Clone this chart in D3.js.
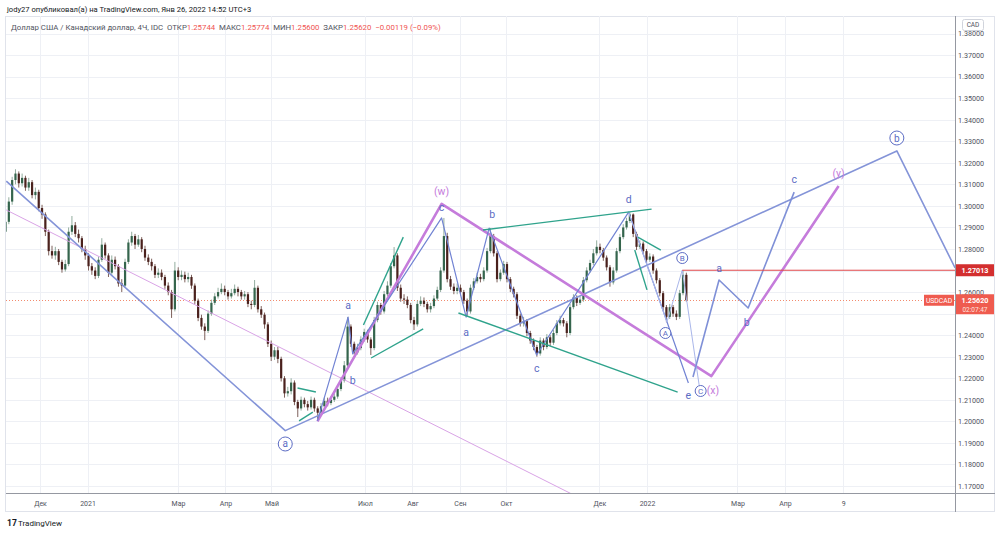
<!DOCTYPE html>
<html>
<head>
<meta charset="UTF-8">
<script src="https://d3js.org/d3.v7.min.js"></script>
<title>USDCAD 4H</title>
<style>
  body{margin:0;background:#fff;}
  text{font-family:Roboto,"Liberation Sans",sans-serif;}
</style>
</head>
<body>
<div id="container"></div>
<script>
// ---- data ----
var candleStart = new Date(2020, 10, 8, 12), candleStepHours = 52, firstOpen = 1.2880;
var closes = [1.2926,1.3020,1.3120,1.3150,1.3105,1.3130,1.3085,1.3110,1.3050,1.3065,
1.2990,1.2960,1.2880,1.2790,1.2770,1.2790,1.2740,1.2705,1.2730,1.2880,
1.2910,1.2870,1.2850,1.2800,1.2770,1.2720,1.2700,1.2675,1.2750,1.2820,
1.2770,1.2690,1.2750,1.2720,1.2640,1.2630,1.2740,1.2830,1.2860,1.2820,
1.2845,1.2800,1.2760,1.2740,1.2720,1.2680,1.2690,1.2670,1.2630,1.2600,
1.2520,1.2700,1.2670,1.2680,1.2660,1.2670,1.2630,1.2560,1.2480,1.2440,
1.2420,1.2500,1.2550,1.2580,1.2600,1.2615,1.2600,1.2580,1.2595,1.2615,
1.2600,1.2580,1.2590,1.2545,1.2540,1.2620,1.2520,1.2495,1.2450,1.2360,
1.2300,1.2330,1.2290,1.2200,1.2130,1.2140,1.2180,1.2090,1.2060,1.2100,
1.2080,1.2065,1.2100,1.2060,1.2040,1.2070,1.2095,1.2085,1.2100,1.2115,
1.2150,1.2190,1.2260,1.2440,1.2360,1.2320,1.2340,1.2380,1.2415,1.2380,
1.2340,1.2470,1.2540,1.2510,1.2590,1.2630,1.2720,1.2770,1.2620,1.2570,
1.2565,1.2540,1.2470,1.2450,1.2545,1.2560,1.2545,1.2520,1.2535,1.2570,
1.2610,1.2700,1.2860,1.2660,1.2625,1.2605,1.2620,1.2600,1.2560,1.2510,
1.2620,1.2650,1.2670,1.2660,1.2700,1.2790,1.2860,1.2780,1.2660,1.2690,
1.2730,1.2660,1.2615,1.2590,1.2490,1.2455,1.2465,1.2410,1.2375,1.2345,
1.2315,1.2375,1.2345,1.2390,1.2365,1.2410,1.2455,1.2470,1.2455,1.2410,
1.2530,1.2575,1.2550,1.2565,1.2655,1.2700,1.2735,1.2780,1.2810,1.2795,
1.2760,1.2715,1.2645,1.2700,1.2790,1.2855,1.2900,1.2930,1.2960,1.2870,
1.2810,1.2825,1.2790,1.2750,1.2765,1.2700,1.2655,1.2595,1.2530,1.2485,
1.2530,1.2500,1.2485,1.2595,1.2680,1.2562];
var highs = [1.2945,1.3040,1.3135,1.3170,1.3160,1.3150,1.3140,1.3130,1.3120,1.3085,
1.3075,1.3005,1.2970,1.2890,1.2815,1.2810,1.2800,1.2750,1.2750,1.2900,
1.2953,1.2925,1.2890,1.2860,1.2815,1.2780,1.2735,1.2715,1.2765,1.2850,
1.2830,1.2780,1.2770,1.2765,1.2730,1.2660,1.2755,1.2845,1.2880,1.2870,
1.2865,1.2855,1.2815,1.2775,1.2755,1.2730,1.2710,1.2705,1.2680,1.2645,
1.2610,1.2740,1.2715,1.2700,1.2695,1.2690,1.2680,1.2640,1.2570,1.2495,
1.2455,1.2515,1.2565,1.2595,1.2620,1.2640,1.2630,1.2610,1.2615,1.2635,
1.2625,1.2610,1.2605,1.2600,1.2560,1.2656,1.2630,1.2535,1.2505,1.2460,
1.2375,1.2345,1.2345,1.2300,1.2210,1.2160,1.2200,1.2190,1.2100,1.2115,
1.2110,1.2095,1.2115,1.2110,1.2070,1.2085,1.2110,1.2110,1.2115,1.2130,
1.2165,1.2205,1.2280,1.2484,1.2450,1.2370,1.2360,1.2395,1.2430,1.2425,
1.2390,1.2485,1.2555,1.2550,1.2605,1.2650,1.2735,1.2809,1.2780,1.2635,
1.2590,1.2580,1.2550,1.2485,1.2560,1.2580,1.2575,1.2555,1.2550,1.2585,
1.2625,1.2715,1.2944,1.2875,1.2675,1.2640,1.2640,1.2635,1.2610,1.2570,
1.2635,1.2665,1.2690,1.2685,1.2715,1.2805,1.2897,1.2870,1.2790,1.2705,
1.2745,1.2740,1.2670,1.2625,1.2600,1.2500,1.2485,1.2475,1.2420,1.2385,
1.2355,1.2390,1.2385,1.2405,1.2400,1.2425,1.2470,1.2490,1.2480,1.2465,
1.2545,1.2590,1.2585,1.2580,1.2670,1.2715,1.2750,1.2800,1.2840,1.2825,
1.2805,1.2770,1.2725,1.2715,1.2805,1.2870,1.2915,1.2945,1.2971,1.2965,
1.2880,1.2840,1.2835,1.2800,1.2780,1.2775,1.2710,1.2665,1.2605,1.2540,
1.2545,1.2540,1.2515,1.2610,1.2701,1.2690];
var lows = [1.2865,1.2915,1.3005,1.3100,1.3085,1.3090,1.3070,1.3070,1.3035,1.3030,
1.2975,1.2940,1.2860,1.2770,1.2755,1.2750,1.2725,1.2690,1.2695,1.2720,
1.2865,1.2855,1.2830,1.2785,1.2750,1.2700,1.2680,1.2660,1.2665,1.2740,
1.2755,1.2670,1.2680,1.2705,1.2625,1.2600,1.2620,1.2730,1.2815,1.2800,
1.2810,1.2785,1.2745,1.2725,1.2700,1.2665,1.2665,1.2655,1.2615,1.2585,
1.2480,1.2510,1.2655,1.2655,1.2645,1.2645,1.2615,1.2545,1.2465,1.2425,
1.2377,1.2410,1.2490,1.2540,1.2570,1.2590,1.2585,1.2565,1.2570,1.2585,
1.2580,1.2565,1.2565,1.2530,1.2520,1.2530,1.2505,1.2480,1.2430,1.2345,
1.2280,1.2285,1.2270,1.2185,1.2110,1.2115,1.2125,1.2075,1.2020,1.2050,
1.2065,1.2050,1.2055,1.2045,1.2006,1.2030,1.2060,1.2070,1.2075,1.2090,
1.2105,1.2140,1.2180,1.2250,1.2345,1.2310,1.2310,1.2330,1.2370,1.2365,
1.2308,1.2330,1.2460,1.2495,1.2500,1.2580,1.2620,1.2710,1.2605,1.2555,
1.2545,1.2525,1.2455,1.2424,1.2440,1.2535,1.2530,1.2505,1.2505,1.2525,
1.2560,1.2600,1.2690,1.2645,1.2610,1.2590,1.2590,1.2585,1.2545,1.2490,
1.2500,1.2610,1.2640,1.2645,1.2650,1.2690,1.2780,1.2765,1.2645,1.2650,
1.2680,1.2645,1.2600,1.2575,1.2475,1.2440,1.2440,1.2395,1.2360,1.2330,
1.2300,1.2305,1.2330,1.2335,1.2350,1.2355,1.2400,1.2445,1.2440,1.2390,
1.2400,1.2520,1.2535,1.2540,1.2555,1.2645,1.2690,1.2725,1.2770,1.2780,
1.2745,1.2700,1.2625,1.2635,1.2690,1.2780,1.2845,1.2890,1.2920,1.2855,
1.2795,1.2800,1.2775,1.2735,1.2740,1.2685,1.2640,1.2580,1.2515,1.2460,
1.2475,1.2485,1.2470,1.2475,1.2585,1.2556];

var priceTicks = [1.17,1.18,1.19,1.20,1.21,1.22,1.23,1.24,1.25,1.26,1.27,1.28,1.29,1.30,1.31,1.32,1.33,1.34,1.35,1.36,1.37,1.38];
var timeTickDates = ["2020-12-01","2021-01-01","2021-03-01","2021-04-01","2021-05-01","2021-07-01","2021-08-01","2021-09-01","2021-10-01","2021-12-01","2022-01-01","2022-03-01","2022-04-01","2022-05-09"];
var timeTickLabels = ["Дек","2021","Мар","Апр","Май","Июл","Авг","Сен","Окт","Дек","2022","Мар","Апр","9"];

// drawings: [date, price]
var bigWave = [["2020-11-09",1.3115],["2021-05-10",1.1957],["2022-06-13",1.3255],["2022-07-21",1.2712]];
var pinkTrend = [["2020-11-09",1.2981],["2022-02-04",1.1366]];
var wxyLine = [["2021-05-31",1.2000],["2021-08-20",1.3009],["2022-02-12",1.2210],["2022-05-06",1.3092]];
var waveLine = [["2021-05-31",1.2002],["2021-06-20",1.2484],["2021-06-23",1.2313],["2021-08-20",1.2944],["2021-09-05",1.2484],["2021-09-20",1.2897],["2021-10-21",1.2308],["2021-12-20",1.2971],["2022-01-28",1.2178]];
var subWave = [["2021-12-20",1.2971],["2022-01-14",1.2461],["2022-01-24",1.2702],["2022-02-04",1.2169]];
var futureWave = [["2022-01-31",1.2206],["2022-02-17",1.2656],["2022-03-08",1.2526],["2022-04-07",1.3064]];
var tealLines = [
  [["2021-05-18",1.2155],["2021-05-30",1.2136]],
  [["2021-05-19",1.2002],["2021-05-28",1.2043]],
  [["2021-06-30",1.2447],["2021-07-26",1.2855]],
  [["2021-07-05",1.2294],["2021-08-08",1.2429]],
  [["2021-08-31",1.2503],["2022-01-21",1.2136]],
  [["2021-09-16",1.2888],["2022-01-04",1.2985]],
  [["2021-12-26",1.2855],["2022-01-10",1.2795]],
  [["2021-12-24",1.2795],["2022-01-01",1.2610]]
];
var levelStart = "2022-01-24", levelPrice = 1.27013, lastPrice = 1.2562;

// labels: text, date, price, kind (0 blue, 1 magenta, 2 blue circled small, 3 blue circled big)
var waveLabels = [
  ["a","2021-05-10",1.1895,3],["b","2022-06-13",1.3315,3],
  ["a","2021-06-20",1.2540,0],["b","2021-06-23",1.2192,0],["c","2021-08-20",1.2995,0],
  ["(w)","2021-08-20",1.3069,1],["b","2021-09-22",1.2962,0],["a","2021-09-05",1.2415,0],
  ["c","2021-10-21",1.2248,0],["d","2021-12-20",1.3032,0],["B","2022-01-24",1.2758,2],
  ["A","2022-01-13",1.2410,2],["e","2022-01-28",1.2122,0],["C","2022-02-05",1.2141,2],
  ["(x)","2022-02-13",1.2145,1],["a","2022-02-17",1.2712,0],["b","2022-03-07",1.2461,0],
  ["c","2022-04-07",1.3125,0],["(y)","2022-05-06",1.3152,1]
];

// ---- chart ----
var W = 1000, H = 534;
var pl = 6, pr = 955, pt = 16, pb = 493;
var parse = d3.timeParse("%Y-%m-%d");

var svg = d3.select("#container").append("svg").attr("width", W).attr("height", H);

var x = d3.scaleTime().domain([new Date(2020, 11, 1), new Date(2022, 0, 1)]).range([40, 647]);
var y = d3.scaleLinear().domain([1.17, 1.38]).range([486, 33.5]);

svg.append("defs").append("clipPath").attr("id", "plot")
  .append("rect").attr("x", pl).attr("y", pt).attr("width", pr - pl).attr("height", pb - pt);

// outer frame
svg.append("rect").attr("x", 5.5).attr("y", 16.5).attr("width", 989).attr("height", 495)
  .attr("fill", "none").attr("stroke", "#e0e3eb");

// grid
var grid = svg.append("g").attr("clip-path", "url(#plot)");
grid.selectAll(".hg").data(priceTicks).enter().append("line")
  .attr("x1", pl).attr("x2", pr)
  .attr("y1", function(d){ return Math.round(y(d)) + 0.5; })
  .attr("y2", function(d){ return Math.round(y(d)) + 0.5; })
  .attr("stroke", "#eef0f5");
grid.selectAll(".vg").data(timeTickDates).enter().append("line")
  .attr("x1", function(d){ return Math.round(x(parse(d))) + 0.5; })
  .attr("x2", function(d){ return Math.round(x(parse(d))) + 0.5; })
  .attr("y1", pt).attr("y2", pb)
  .attr("stroke", "#eef0f5");

var plot = svg.append("g").attr("clip-path", "url(#plot)");

// last price dotted line
plot.append("line").attr("x1", pl).attr("x2", pr)
  .attr("y1", Math.round(y(lastPrice)) + 0.5).attr("y2", Math.round(y(lastPrice)) + 0.5)
  .attr("stroke", "#f28b6e").attr("stroke-dasharray", "1,2");

// candles
var candles = closes.map(function(c, i){
  return { t: d3.timeHour.offset(candleStart, i * candleStepHours),
           o: i === 0 ? firstOpen : closes[i - 1], h: highs[i], l: lows[i], c: c };
});
var cg = plot.selectAll(".candle").data(candles).enter().append("g");
cg.append("line")
  .attr("x1", function(d){ return x(d.t); }).attr("x2", function(d){ return x(d.t); })
  .attr("y1", function(d){ return y(d.h); }).attr("y2", function(d){ return y(d.l); })
  .attr("stroke", function(d){ return d.c >= d.o ? "#93ad9f" : "#7d605a"; })
  .attr("stroke-width", 1);
cg.append("rect")
  .attr("x", function(d){ return x(d.t) - 1.1; }).attr("width", 2.2)
  .attr("y", function(d){ return y(Math.max(d.o, d.c)); })
  .attr("height", function(d){ return Math.max(0.8, Math.abs(y(d.o) - y(d.c))); })
  .attr("fill", function(d){ return d.c >= d.o ? "#35654d" : "#4a211d"; });

// drawings
var line = d3.line().x(function(d){ return x(parse(d[0])); }).y(function(d){ return y(d[1]); });
function draw(pts, color, w){
  plot.append("path").datum(pts).attr("d", line).attr("fill", "none")
    .attr("stroke", color).attr("stroke-width", w).attr("stroke-linejoin", "round");
}
draw(pinkTrend, "#d9a3e6", 1);
draw(bigWave, "#8494d8", 1.6);
draw(wxyLine, "#c57cdb", 2.6);
draw(waveLine, "#7183d3", 1.2);
draw(subWave, "#a9b6ea", 1);
draw(futureWave, "#7f90d7", 1.6);
tealLines.forEach(function(t){ draw(t, "#2fa38c", 1.4); });

// resistance level
plot.append("line")
  .attr("x1", x(parse(levelStart))).attr("x2", pr)
  .attr("y1", y(levelPrice)).attr("y2", y(levelPrice))
  .attr("stroke", "#e0474a").attr("stroke-width", 1);

// wave labels
var lg = svg.append("g");
waveLabels.forEach(function(d){
  var cx = x(parse(d[1])), cy = y(d[2]);
  var col = d[3] === 1 ? "#c57cdb" : "#5c6cc4";
  if (d[3] >= 2) {
    lg.append("circle").attr("cx", cx).attr("cy", cy).attr("r", d[3] === 3 ? 7 : 5.5)
      .attr("fill", "#fff").attr("stroke", col).attr("stroke-width", 1);
  }
  lg.append("text").attr("x", cx).attr("y", cy).attr("dy", "0.35em")
    .attr("text-anchor", "middle").attr("fill", col)
    .attr("font-size", d[3] === 2 ? 8 : (d[3] === 3 ? 10 : 10.5))
    .text(d[0]);
});

// axis frames
svg.append("line").attr("x1", pr + 0.5).attr("x2", pr + 0.5).attr("y1", pt).attr("y2", 512)
  .attr("stroke", "#9598a1");
svg.append("line").attr("x1", pl).attr("x2", 995).attr("y1", pb + 0.5).attr("y2", pb + 0.5)
  .attr("stroke", "#9598a1");

// right price axis (labels hidden under the price tags are left out, as on the screen)
var ly = y(lastPrice);
var shownTicks = priceTicks.filter(function(p){
  return Math.abs(y(p) - y(levelPrice)) > 7 && (y(p) < ly - 7 || y(p) > ly + 20);
});
var yAxis = d3.axisRight(y).tickValues(shownTicks).tickFormat(d3.format(".5f")).tickSize(0).tickPadding(3);
var ya = svg.append("g").attr("transform", "translate(" + pr + ",0)").call(yAxis);
ya.select(".domain").remove();
ya.selectAll("text").attr("fill", "#50535e").attr("font-size", 7.2)
  .attr("font-family", "Roboto, 'Liberation Sans', sans-serif");

// bottom time axis
var xAxis = d3.axisBottom(x).tickValues(timeTickDates.map(parse))
  .tickFormat(function(d, i){ return timeTickLabels[i]; }).tickSize(0).tickPadding(8);
var xa = svg.append("g").attr("transform", "translate(0," + pb + ")").call(xAxis);
xa.select(".domain").remove();
xa.selectAll("text").attr("fill", "#50535e").attr("font-size", 7)
  .attr("font-family", "Roboto, 'Liberation Sans', sans-serif");

// CAD badge
svg.append("rect").attr("x", 962.5).attr("y", 19.5).attr("width", 21).attr("height", 11).attr("rx", 2)
  .attr("fill", "#fff").attr("stroke", "#d1d4dc");
svg.append("text").attr("x", 973).attr("y", 25).attr("dy", "0.35em").attr("text-anchor", "middle")
  .attr("font-size", 6.5).attr("fill", "#50535e").text("CAD");

// level price tag
svg.append("rect").attr("x", pr + 1).attr("y", y(levelPrice) - 6).attr("width", 38).attr("height", 12)
  .attr("fill", "#d32f2f");
svg.append("text").attr("x", pr + 20).attr("y", y(levelPrice)).attr("dy", "0.35em")
  .attr("text-anchor", "middle").attr("font-size", 7.2).attr("font-weight", "bold")
  .attr("fill", "#fff").text("1.27013");

// last price tag
svg.append("rect").attr("x", 924).attr("y", ly - 5.5).attr("width", 30).attr("height", 11).attr("fill", "#ef5b4f");
svg.append("text").attr("x", 939).attr("y", ly).attr("dy", "0.35em").attr("text-anchor", "middle")
  .attr("font-size", 6.8).attr("fill", "#fff").text("USDCAD");
svg.append("rect").attr("x", pr + 1).attr("y", ly - 6).attr("width", 38).attr("height", 20).attr("fill", "#ef5b4f");
svg.append("text").attr("x", pr + 20).attr("y", ly).attr("dy", "0.35em").attr("text-anchor", "middle")
  .attr("font-size", 7.2).attr("font-weight", "bold").attr("fill", "#fff").text("1.25620");
svg.append("text").attr("x", pr + 20).attr("y", ly + 9).attr("dy", "0.35em").attr("text-anchor", "middle")
  .attr("font-size", 6.5).attr("fill", "#ffe3df").text("02:07:47");

// header
svg.append("text").attr("x", 7).attr("y", 9).attr("dy", "0.35em").attr("font-size", 7.6)
  .attr("fill", "#131722").text("jody27 опубликовал(а) на TradingView.com, Янв 26, 2022 14:52 UTC+3");
var legend = svg.append("text").attr("x", 11).attr("y", 27).attr("dy", "0.35em").attr("font-size", 7.8)
  .attr("fill", "#50535e").attr("xml:space", "preserve");
var legendParts = [["Доллар США / Канадский доллар, 4Ч, IDC  ", "#50535e"], ["ОТКР", "#50535e"], ["1.25744  ", "#ef5350"],
  ["МАКС", "#50535e"], ["1.25774  ", "#ef5350"], ["МИН", "#50535e"], ["1.25600  ", "#ef5350"],
  ["ЗАКР", "#50535e"], ["1.25620  −0.00119 (−0.09%)", "#ef5350"]];
legendParts.forEach(function(p){
  legend.append("tspan").attr("fill", p[1]).text(p[0]);
});

// footer logo
svg.append("text").attr("x", 7).attr("y", 523).attr("dy", "0.35em").attr("font-size", 8.5)
  .attr("font-weight", "bold").attr("fill", "#131722").text("17");
svg.append("text").attr("x", 18).attr("y", 523).attr("dy", "0.35em").attr("font-size", 8)
  .attr("fill", "#131722").text("TradingView");
</script>
</body>
</html>
